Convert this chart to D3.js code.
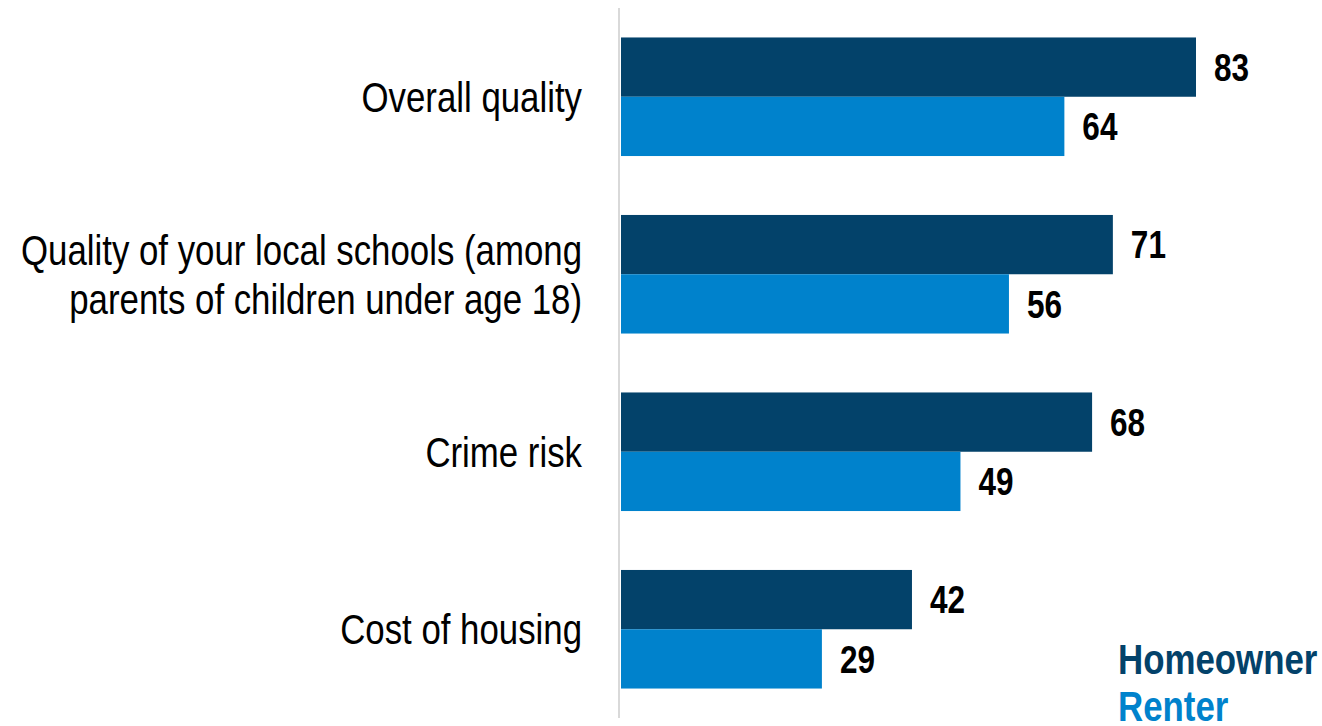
<!DOCTYPE html>
<html>
<head>
<meta charset="utf-8">
<script src="https://cdn.jsdelivr.net/npm/d3@7"></script>
<style>
  html, body { margin: 0; padding: 0; background: #fff; }
  svg { display: block; }
  text { font-family: "Liberation Sans", Arial, sans-serif; }
</style>
</head>
<body>
<svg id="chart" width="1322" height="726"></svg>
<script>
// Share of respondents rating each aspect positively, by tenure
const categories = [
  ["Overall quality"],
  ["Quality of your local schools (among", "parents of children under age 18)"],
  ["Crime risk"],
  ["Cost of housing"]
];
const seriesNames = ["Homeowner", "Renter"];
const homeowner = [83, 71, 68, 42];
const renter = [64, 56, 49, 29];
const colors = ["#03426a", "#0082cc"];

// condensed lettering: regular face squeezed horizontally
const NARROW = 0.83;
const NARROW_CAT = 0.825;

const svg = d3.select("#chart");
const x0 = 621;

const keys = categories.map((c, i) => "c" + i);
const y = d3.scaleBand().domain(keys).range([8, 718]).paddingInner(0.332).paddingOuter(0.166);
const ySub = d3.scaleBand().domain(seriesNames).range([0, y.bandwidth()]);
const x = d3.scaleLinear().domain([0, 83]).range([x0, 1196]);

const values = [homeowner, renter];

function narrowText(parent, px, py, k = NARROW) {
  return parent.append("g")
    .attr("transform", `translate(${px},${py}) scale(${k},1)`)
    .append("text");
}

// bars and value labels
const groups = svg.append("g").selectAll("g")
  .data(keys)
  .join("g")
  .attr("transform", d => `translate(0,${y(d)})`);

groups.each(function (k, i) {
  const g = d3.select(this);
  seriesNames.forEach((s, j) => {
    const v = values[j][i];
    g.append("rect")
      .attr("x", x(0))
      .attr("y", ySub(s))
      .attr("width", x(v) - x(0))
      .attr("height", ySub.bandwidth())
      .attr("fill", colors[j]);
    narrowText(g, x(v) + 18, ySub(s) + ySub.bandwidth() / 2)
      .attr("dy", "0.36em")
      .attr("font-size", 38)
      .attr("font-weight", "bold")
      .attr("fill", "#000")
      .text(v);
  });
});

// category axis line
svg.append("line")
  .attr("x1", 619).attr("x2", 619)
  .attr("y1", y.range()[0]).attr("y2", y.range()[1])
  .attr("stroke", "#d9d9d9").attr("stroke-width", 2);

// category labels
const lineGap = 49;
keys.forEach((k, i) => {
  const lines = categories[i];
  const cy = y(k) + y.bandwidth() / 2;
  lines.forEach((ln, li) => {
    narrowText(svg, 582, cy + (li - (lines.length - 1) / 2) * lineGap, NARROW_CAT)
      .attr("text-anchor", "end")
      .attr("dy", "0.35em")
      .attr("font-size", 42.2)
      .attr("fill", "#000")
      .text(ln);
  });
});

// legend
seriesNames.forEach((s, j) => {
  narrowText(svg, 1118, 674 + j * 47)
    .attr("font-size", 42)
    .attr("font-weight", "bold")
    .attr("fill", colors[j])
    .text(s);
});
</script>
</body>
</html>
